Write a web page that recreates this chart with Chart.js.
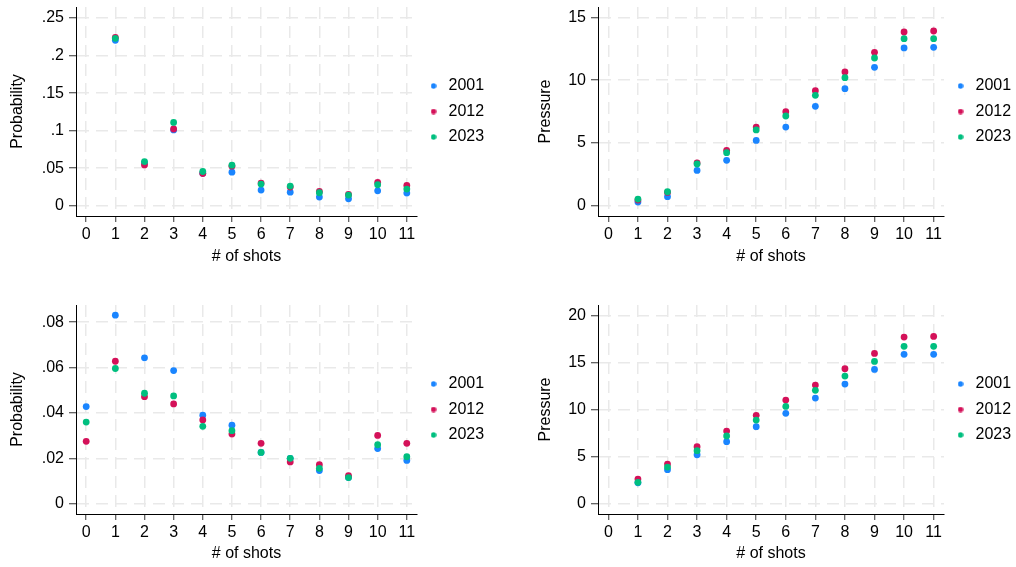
<!DOCTYPE html>
<html>
<head>
<meta charset="utf-8">
<script src="https://cdn.jsdelivr.net/npm/chart.js@4/dist/chart.umd.min.js"></script>
<style>
  html, body { margin: 0; padding: 0; background: #fff; overflow: hidden; }
  body { width: 1016px; height: 567px; position: relative; }
  canvas { position: absolute; }
</style>
</head>
<body>
<canvas id="probTop" width="508" height="275" style="left:0;top:0"></canvas>
<canvas id="pressTop" width="500" height="275" style="left:522px;top:0"></canvas>
<canvas id="probBottom" width="508" height="269" style="left:0;top:298px"></canvas>
<canvas id="pressBottom" width="500" height="269" style="left:522px;top:298px"></canvas>
<script>
// series / shots
const years = ['2001', '2012', '2023'];
const colors = ['#1a85ff', '#d41159', '#00bf7f'];
const shots = [0, 1, 2, 3, 4, 5, 6, 7, 8, 9, 10, 11];
const shotLabels = ['0', '1', '2', '3', '4', '5', '6', '7', '8', '9', '10', '11'];

// top row
const probTop2001 = [null, 0.2204, 0.0570, 0.1009, 0.0434, 0.0447, 0.0208, 0.0181, 0.0115, 0.0093, 0.0199, 0.0168];
const probTop2012 = [null, 0.2243, 0.0544, 0.1022, 0.0429, 0.0527, 0.0301, 0.0248, 0.0190, 0.0150, 0.0310, 0.0270];
const probTop2023 = [null, 0.2230, 0.0588, 0.1110, 0.0456, 0.0540, 0.0288, 0.0261, 0.0173, 0.0142, 0.0279, 0.0221];
const probTopTicks = [0, 0.05, 0.1, 0.15, 0.2, 0.25];
const probTopTickLabels = ['0', '.05', '.1', '.15', '.2', '.25'];

const pressTop2001 = [null, 0.29, 0.72, 2.81, 3.61, 5.20, 6.26, 7.91, 9.32, 11.02, 12.56, 12.61];
const pressTop2012 = [null, 0.45, 1.06, 3.40, 4.41, 6.26, 7.49, 9.16, 10.65, 12.21, 13.83, 13.91];
const pressTop2023 = [null, 0.53, 1.11, 3.32, 4.22, 6.03, 7.14, 8.79, 10.19, 11.76, 13.30, 13.30];
const pressTopTicks = [0, 5, 10, 15];
const pressTopTickLabels = ['0', '5', '10', '15'];

// bottom row
const probBot2001 = [0.0428, 0.0831, 0.0643, 0.0587, 0.0390, 0.0346, 0.0226, 0.0200, 0.0146, 0.0115, 0.0243, 0.0191];
const probBot2012 = [0.0275, 0.0628, 0.0472, 0.0440, 0.0369, 0.0307, 0.0266, 0.0184, 0.0172, 0.0124, 0.0301, 0.0266];
const probBot2023 = [0.0360, 0.0596, 0.0487, 0.0475, 0.0341, 0.0322, 0.0226, 0.0200, 0.0156, 0.0115, 0.0260, 0.0207];
const probBotTicks = [0, 0.02, 0.04, 0.06, 0.08];
const probBotTickLabels = ['0', '.02', '.04', '.06', '.08'];

const pressBot2001 = [null, 2.23, 3.62, 5.21, 6.60, 8.19, 9.61, 11.24, 12.73, 14.29, 15.89, 15.89];
const pressBot2012 = [null, 2.62, 4.22, 6.06, 7.73, 9.40, 11.03, 12.62, 14.36, 15.99, 17.73, 17.80];
const pressBot2023 = [null, 2.27, 3.90, 5.64, 7.20, 8.90, 10.35, 12.06, 13.58, 15.14, 16.74, 16.74];
const pressBotTicks = [0, 5, 10, 15, 20];
const pressBotTickLabels = ['0', '5', '10', '15', '20'];

Chart.defaults.font.family = '"Liberation Sans", Arial, sans-serif';
Chart.defaults.font.size = 16;
Chart.defaults.color = '#000';

// small round images for the legend keys
const legendDots = colors.map(c => {
    const cv = document.createElement('canvas');
    cv.width = 6; cv.height = 6;
    const g = cv.getContext('2d');
    g.fillStyle = c;
    g.beginPath();
    g.arc(3, 3, 2.7, 0, Math.PI * 2);
    g.fill();
    return cv;
});

function toPoints(values) {
    const pts = [];
    values.forEach((v, i) => { if (v !== null) pts.push({x: shots[i], y: v}); });
    return pts;
}

function makePanel(id, opt) {
    const datasets = opt.series.map((vals, i) => ({
        label: years[i],
        data: toPoints(vals),
        backgroundColor: colors[i],
        borderColor: colors[i],
        borderWidth: 0,
        pointRadius: 3.4,
        pointHoverRadius: 3.4,
        order: 2 - i   // later years drawn on top
    }));

    const gridStyle = {
        color: '#e9e9e9',
        lineWidth: 1.5,
        tickColor: '#333',
        tickWidth: 1,
        tickBorderDash: []
    };
    const border = {display: true, color: '#000', width: 1, dash: [12, 7]};

    new Chart(document.getElementById(id), {
        type: 'scatter',
        data: {datasets: datasets},
        options: {
            responsive: false,
            animation: false,
            layout: {padding: {top: 7, left: 0, bottom: 0, right: opt.padRight}},
            plugins: {
                tooltip: {enabled: false},
                legend: {
                    position: 'right',
                    fullSize: false,
                    labels: {
                        usePointStyle: true,
                        pointStyleWidth: 14,
                        padding: 9.5,
                        color: '#000',
                        font: {size: 16},
                        generateLabels: chart => {
                            const items = Chart.defaults.plugins.legend.labels.generateLabels(chart);
                            items.sort((a, b) => a.datasetIndex - b.datasetIndex);
                            items.forEach(it => { it.pointStyle = legendDots[it.datasetIndex]; });
                            return items;
                        }
                    }
                }
            },
            scales: {
                x: {
                    type: 'linear',
                    min: -0.35,
                    max: 11.35,
                    afterBuildTicks: s => { s.ticks = shots.map(v => ({value: v})); },
                    afterFit: s => { s.height = opt.xHeight; s.paddingLeft = 0; s.paddingRight = 0; },
                    grid: Object.assign({tickLength: 6}, gridStyle),
                    border: border,
                    ticks: {
                        padding: 3,
                        autoSkip: false,
                        maxRotation: 0,
                        color: '#000',
                        callback: v => shotLabels[shots.indexOf(v)]
                    },
                    title: {display: true, text: '# of shots', color: '#000', font: {size: 16}, padding: {top: 0, bottom: opt.xTitlePad}}
                },
                y: {
                    type: 'linear',
                    min: opt.yMin,
                    max: opt.yMax,
                    afterBuildTicks: s => { s.ticks = opt.ticks.map(v => ({value: v})); },
                    afterFit: s => { s.width = opt.yWidth; s.paddingTop = 0; s.paddingBottom = 0; },
                    grid: Object.assign({tickLength: 7}, gridStyle),
                    border: border,
                    ticks: {
                        padding: 5,
                        color: '#000',
                        callback: v => opt.tickLabels[opt.ticks.indexOf(v)]
                    },
                    title: {display: true, text: opt.yTitle, color: '#000', font: {size: 16}, padding: {top: opt.yTitlePad, bottom: 0}}
                }
            }
        }
    });
}

makePanel('probTop', {
    series: [probTop2001, probTop2012, probTop2023],
    ticks: probTopTicks, tickLabels: probTopTickLabels,
    yMin: -0.0137, yMax: 0.2647, yTitle: 'Probability', yTitlePad: 8.4,
    yWidth: 76, xHeight: 59, xTitlePad: 9, padRight: 13.9
});
makePanel('pressTop', {
    series: [pressTop2001, pressTop2012, pressTop2023],
    ticks: pressTopTicks, tickLabels: pressTopTickLabels,
    yMin: -0.82, yMax: 15.82, yTitle: 'Pressure', yTitlePad: 14.4,
    yWidth: 76, xHeight: 59, xTitlePad: 9, padRight: 0.9
});
makePanel('probBottom', {
    series: [probBot2001, probBot2012, probBot2023],
    ticks: probBotTicks, tickLabels: probBotTickLabels,
    yMin: -0.00454, yMax: 0.0876, yTitle: 'Probability', yTitlePad: 8.4,
    yWidth: 76, xHeight: 53, xTitlePad: 3.4, padRight: 13.9
});
makePanel('pressBottom', {
    series: [pressBot2001, pressBot2012, pressBot2023],
    ticks: pressBotTicks, tickLabels: pressBotTickLabels,
    yMin: -1.096, yMax: 21.14, yTitle: 'Pressure', yTitlePad: 14.4,
    yWidth: 76, xHeight: 53, xTitlePad: 3.4, padRight: 0.9
});
</script>
</body>
</html>
